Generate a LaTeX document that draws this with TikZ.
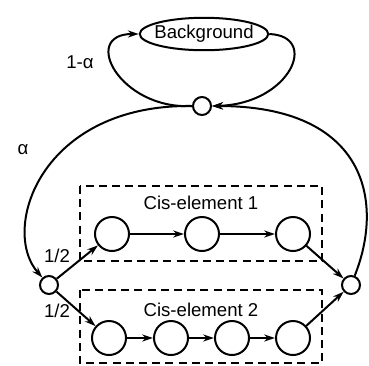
\documentclass[tikz,border=0pt]{standalone}
\usepackage{fontspec}
\setmainfont{Liberation Sans}
\usetikzlibrary{shapes.geometric, arrows.meta}

\begin{document}
\begin{tikzpicture}[x=0.5pt, y=-0.5pt, >={Stealth[length=5.5pt, width=3.6pt]},
    line width=1pt, font=\fontsize{9.3}{11}\selectfont,
    state/.style={circle, draw, minimum size=17pt, inner sep=0pt},
    junction/.style={circle, draw, minimum size=9pt, inner sep=0pt},
    elembox/.style={dashed, dash pattern=on 4pt off 2.6pt}]
        \useasboundingbox (0,0) rectangle (369,365);

        % Background loop
        \node[ellipse, draw, inner xsep=-2.1pt, inner ysep=1.4pt] (bg) at (204,34) {Background};
        \node[junction] (top) at (202,106) {};
        \draw[->] (top.west) .. controls (120,110) and (80,34) .. (bg.west);
        \draw[->] (bg.east) .. controls (320,36) and (290,104) .. (top.east);
        \node (lbgloop) at (80,62) {1-α};

        % Dashed boxes
        \draw[elembox] (80,186) rectangle (322,261);
        \draw[elembox] (80,290) rectangle (322,363);
        \node (lcis1) at (201,203) {Cis-element 1};
        \node (lcis2) at (201,310) {Cis-element 2};

        % Junctions
        \node[junction] (jl) at (49,285) {};
        \node[junction] (jr) at (351,285) {};

        % States
        \node[state] (a1) at (112,234) {};
        \node[state] (a2) at (202,234) {};
        \node[state] (a3) at (293,234) {};
        \node[state] (b1) at (109,338) {};
        \node[state] (b2) at (171,338) {};
        \node[state] (b3) at (232,338) {};
        \node[state] (b4) at (293,338) {};

        % Transitions
        \draw[->] (top.west) .. controls (40,104) and (0,230) .. (jl);
        \draw[->] (jr) .. controls (385,200) and (365,106) .. (top.east);
        \node (lalpha) at (23,150) {α};

        \draw[->] (jl) -- (a1);
        \draw[->] (jl) -- (b1);
        \node (lhalf1) at (57,256) {1/2};
        \node (lhalf2) at (57,311) {1/2};

        \draw[->] (a1) -- (a2);
        \draw[->] (a2) -- (a3);
        \draw[->] (a3) -- (jr);

        \draw[->] (b1) -- (b2);
        \draw[->] (b2) -- (b3);
        \draw[->] (b3) -- (b4);
        \draw[->] (b4) -- (jr);
\end{tikzpicture}
\end{document}
